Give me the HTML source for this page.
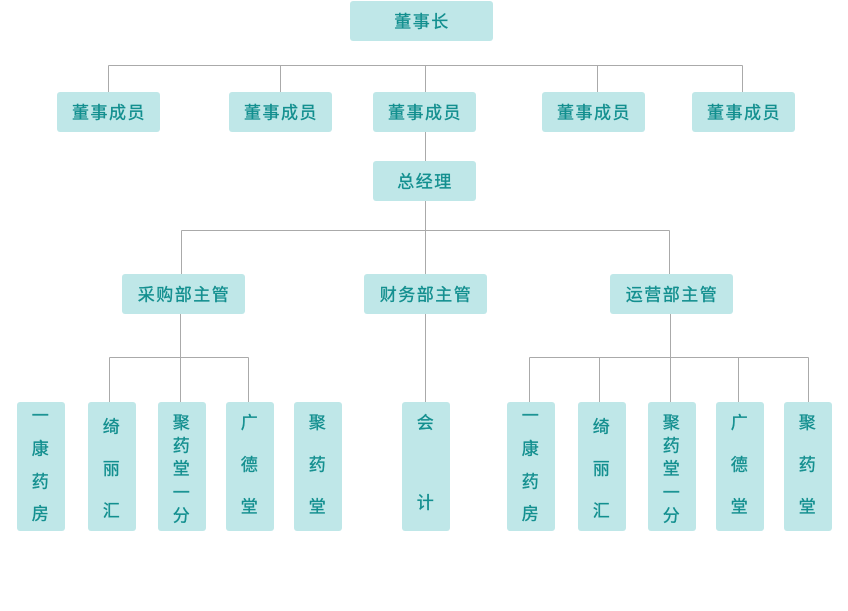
<!DOCTYPE html>
<html><head><meta charset="utf-8"><style>
body{margin:0;background:#fff;}
svg text{font-family:"Liberation Sans","Noto Sans CJK SC",sans-serif;font-size:17px;fill:#138f8f;stroke:#138f8f;stroke-width:0.35px;text-anchor:middle;dominant-baseline:central;letter-spacing:1.5px;}
</style></head><body>
<svg width="848" height="606" xmlns="http://www.w3.org/2000/svg">
<g stroke="#aaa" stroke-width="1" fill="none">
<path d="M108.5 65.5H742.5M108.5 65.5V92M280.5 65.5V92M425.5 65.5V92M597.5 65.5V92M742.5 65.5V92"/>
<path d="M425.5 132V161M425.5 201V274M181.5 230.5H669.5M181.5 230.5V274M669.5 230.5V274"/>
<path d="M180.5 314V402M109.5 357.5H248.5M109.5 357.5V402M248.5 357.5V402"/>
<path d="M425.5 314V402"/>
<path d="M670.5 314V402M529.5 357.5H808.5M529.5 357.5V402M599.5 357.5V402M738.5 357.5V402M808.5 357.5V402"/>
</g>
<g fill="#bfe7e8">
<rect x="350" y="1" width="143" height="40" rx="3"/>
<rect x="57" y="92" width="103" height="40" rx="3"/>
<rect x="229" y="92" width="103" height="40" rx="3"/>
<rect x="373" y="92" width="103" height="40" rx="3"/>
<rect x="542" y="92" width="103" height="40" rx="3"/>
<rect x="692" y="92" width="103" height="40" rx="3"/>
<rect x="373" y="161" width="103" height="40" rx="3"/>
<rect x="122" y="274" width="123" height="40" rx="3"/>
<rect x="364" y="274" width="123" height="40" rx="3"/>
<rect x="610" y="274" width="123" height="40" rx="3"/>
<rect x="17" y="402" width="48" height="129" rx="3"/>
<rect x="88" y="402" width="48" height="129" rx="3"/>
<rect x="158" y="402" width="48" height="129" rx="3"/>
<rect x="226" y="402" width="48" height="129" rx="3"/>
<rect x="294" y="402" width="48" height="129" rx="3"/>
<rect x="402" y="402" width="48" height="129" rx="3"/>
<rect x="507" y="402" width="48" height="129" rx="3"/>
<rect x="578" y="402" width="48" height="129" rx="3"/>
<rect x="648" y="402" width="48" height="129" rx="3"/>
<rect x="716" y="402" width="48" height="129" rx="3"/>
<rect x="784" y="402" width="48" height="129" rx="3"/>
</g>
<text x="422" y="22">董事长</text>
<text x="109" y="113">董事成员</text>
<text x="281" y="113">董事成员</text>
<text x="425" y="113">董事成员</text>
<text x="594" y="113">董事成员</text>
<text x="744" y="113">董事成员</text>
<text x="425" y="182">总经理</text>
<text x="184" y="295">采购部主管</text>
<text x="426" y="295">财务部主管</text>
<text x="672" y="295">运营部主管</text>
<g style="letter-spacing:0">
<text x="41" y="416">一</text><text x="41" y="449">康</text><text x="41" y="482">药</text><text x="41" y="514">房</text>
<text x="112" y="427">绮</text><text x="112" y="469">丽</text><text x="112" y="511">汇</text>
<text x="182" y="423">聚</text><text x="182" y="446">药</text><text x="182" y="469">堂</text><text x="182" y="493">一</text><text x="182" y="516">分</text>
<text x="250" y="423">广</text><text x="250" y="465">德</text><text x="250" y="507">堂</text>
<text x="318" y="423">聚</text><text x="318" y="465">药</text><text x="318" y="507">堂</text>
<text x="426" y="423">会</text><text x="426" y="503">计</text>
<text x="531" y="416">一</text><text x="531" y="449">康</text><text x="531" y="482">药</text><text x="531" y="514">房</text>
<text x="602" y="427">绮</text><text x="602" y="469">丽</text><text x="602" y="511">汇</text>
<text x="672" y="423">聚</text><text x="672" y="446">药</text><text x="672" y="469">堂</text><text x="672" y="493">一</text><text x="672" y="516">分</text>
<text x="740" y="423">广</text><text x="740" y="465">德</text><text x="740" y="507">堂</text>
<text x="808" y="423">聚</text><text x="808" y="465">药</text><text x="808" y="507">堂</text>
</g>
</svg>
</body></html>
